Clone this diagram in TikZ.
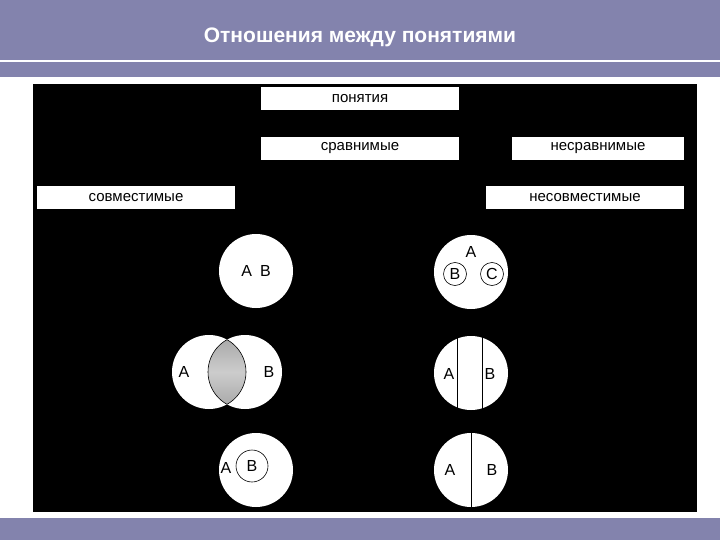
\documentclass[tikz,border=0pt]{standalone}
\usepackage{fontspec}
\setmainfont{Liberation Sans}
\begin{document}
\begin{tikzpicture}[x=1pt,y=-1pt,
  band/.style={fill=bandc,draw=none},
  lbl/.style={fill=white,minimum height=23pt,inner sep=0pt,font=\fontsize{15}{17}\selectfont},
  circ/.style={circle,fill=white,draw=none,inner sep=0pt},
  txt/.style={font=\fontsize{16}{18}\selectfont,inner sep=0pt}]
\definecolor{bandc}{HTML}{8383AD}
\useasboundingbox (0,0) rectangle (720,540);
\fill[white] (0,0) rectangle (720,540);
\fill[band] (0,0) rectangle (720,77);
\draw[white,line width=1.5pt] (0,61) -- (720,61);
\fill[band] (0,518) rectangle (720,540);
\node[font=\bfseries\fontsize{21}{24}\selectfont,text=white] (title) at (360,37) {Отношения между понятиями};
\fill[black] (33,84) rectangle (697,512);
\node[lbl,minimum width=198pt] (p) at (360,98.5) {понятия};
\node[lbl,minimum width=198pt] (s) at (360,148.5) {сравнимые};
\node[lbl,minimum width=172pt] (ns) at (598,148.5) {несравнимые};
\node[lbl,minimum width=198pt] (sv) at (136,197.5) {совместимые};
\node[lbl,minimum width=198pt] (nsv) at (585,197.5) {несовместимые};
% top left
\node[circ,minimum size=74pt] (c1) at (256,271) {};
\node[txt] (c1t) at (c1) {A\hspace{8pt}B};
% overlap
\fill[white] (209,372) circle (37);
\fill[white] (245,372) circle (37);
\begin{scope}
\clip (209,372) circle (37);
\shade[top color=gray!70,bottom color=gray!70,middle color=white!80!black] (245,372) circle (37);
\end{scope}
\begin{scope}
\clip (209,372) circle (37);
\draw[line width=0.6pt] (245,372) circle (37);
\end{scope}
\begin{scope}
\clip (245,372) circle (37);
\draw[line width=0.6pt] (209,372) circle (37);
\end{scope}
\node[txt] (oa) at (184,372) {A};
\node[txt] (ob) at (269,372) {B};
% bottom left
\node[circ,minimum size=74pt] (c3) at (256,470) {};
\draw[line width=0.6pt] (252,466) circle (16);
\node[txt] (c3a) at (226,468) {A};
\node[txt] (c3b) at (252,466) {B};
% top right
\node[circ,minimum size=74pt] (d1) at (471,272) {};
\draw[line width=0.6pt] (455,274) circle (11.5);
\draw[line width=0.6pt] (492,274) circle (11.5);
\node[txt] (d1a) at (471,252) {A};
\node[txt] (d1b) at (455,274) {B};
\node[txt] (d1c) at (492,274) {C};
% middle right
\node[circ,minimum size=74pt] (d2) at (471,373) {};
\draw[line width=1pt] (457,336) -- (457,410);
\draw[line width=1pt] (482,337) -- (482,409);
\node[txt] (d2a) at (449,374) {A};
\node[txt] (d2b) at (490,374) {B};
% bottom right
\node[circ,minimum size=74pt] (d3) at (471,470) {};
\draw[line width=1pt] (471.5,433) -- (471.5,507);
\node[txt] (d3a) at (450,470) {A};
\node[txt] (d3b) at (492,470) {B};
\end{tikzpicture}
\end{document}
